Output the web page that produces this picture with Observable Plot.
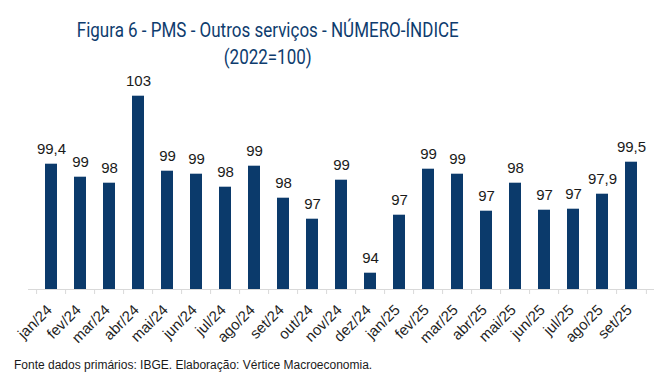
<!DOCTYPE html>
<html>
<head>
<meta charset="utf-8">
<script src="https://cdn.jsdelivr.net/npm/d3@7"></script>
<script src="https://cdn.jsdelivr.net/npm/@observablehq/plot@0.6"></script>
<style>
  html, body { margin: 0; padding: 0; background: #fff; }
  #wrap { width: 661px; height: 378px; position: relative; overflow: hidden; }
  #title { width: 536px; text-align: center; color: #0e3c6e; font-family: "Roboto", sans-serif; font-size: 20px; line-height: 27px; padding-top: 17px; height: 55px; }
  #title span { display: inline-block; white-space: nowrap; transform-origin: 50% 50%; }
  #chart { height: 273px; }
  #caption { font-family: "Liberation Sans", Arial, sans-serif; font-size: 12px; line-height: 14px; color: #1a1a1a; margin-top: 13px; padding-left: 14px; }
</style>
</head>
<body>
<div id="wrap">
  <div id="title"><span id="t1">Figura 6 - PMS - Outros serviços - NÚMERO-ÍNDICE</span><br><span id="t2">(2022=100)</span></div>
  <div id="chart"></div>
  <div id="caption">Fonte dados primários: IBGE. Elaboração: Vértice Macroeconomia.</div>
</div>
<script>
const months = ["jan/24","fev/24","mar/24","abr/24","mai/24","jun/24","jul/24","ago/24","set/24","out/24","nov/24","dez/24","jan/25","fev/25","mar/25","abr/25","mai/25","jun/25","jul/25","ago/25","set/25"];
const values = [99.4, 98.75, 98.45, 102.8, 99.05, 98.9, 98.25, 99.3, 97.7, 96.65, 98.6, 93.95, 96.85, 99.15, 98.9, 97.05, 98.45, 97.1, 97.15, 97.9, 99.5];
const labels = ["99,4","99","98","103","99","99","98","99","98","97","99","94","97","99","99","97","98","97","97","97,9","99,5"];
const yDomain = [93.135, 103.485];

const data = months.map((m, i) => ({month: m, value: values[i], label: labels[i]}));

// condense title font to match the narrow reference face
const t1 = document.getElementById("t1"), t2 = document.getElementById("t2");
const sx = 382 / t1.getBoundingClientRect().width;
t1.style.transform = `scaleX(${sx})`;
t2.style.transform = `scaleX(${sx})`;

const W = 661, H = 273, ML = 28, MR = 7, MT = 10, MB = 56;
const step = (W - ML - MR) / months.length;
const grey = "#d9d9d9";
const barColor = "#0b3a6b";

const plot = Plot.plot({
  width: W, height: H,
  marginLeft: ML, marginRight: MR, marginTop: MT, marginBottom: MB,
  style: {fontFamily: "'Liberation Sans', Arial, sans-serif", color: "#1f1f1f", background: "transparent", overflow: "visible"},
  x: {domain: months, paddingInner: 0.6, paddingOuter: 0.3, label: null},
  y: {domain: yDomain, axis: null, label: null},
  marks: [
    Plot.barY(data, {x: "month", y1: yDomain[0], y2: "value", fill: barColor}),
    Plot.ruleY([yDomain[0]], {stroke: grey, strokeWidth: 1}),
    Plot.axisX({tickSize: 5, tickFormat: () => "", stroke: grey, dx: -step / 2}),
    Plot.axisX({ticks: [months[months.length - 1]], tickSize: 5, tickFormat: () => "", stroke: grey, dx: step / 2}),
    Plot.axisX({tickSize: 0, tickPadding: 18, dx: -2, tickRotate: -45, fontSize: 15, fill: "#1f1f1f", label: null}),
    Plot.text(data, {x: "month", y: "value", text: "label", dy: -10, lineAnchor: "bottom", fontSize: 15, fill: "#1a1a1a"})
  ]
});
document.getElementById("chart").appendChild(plot);
</script>
</body>
</html>
